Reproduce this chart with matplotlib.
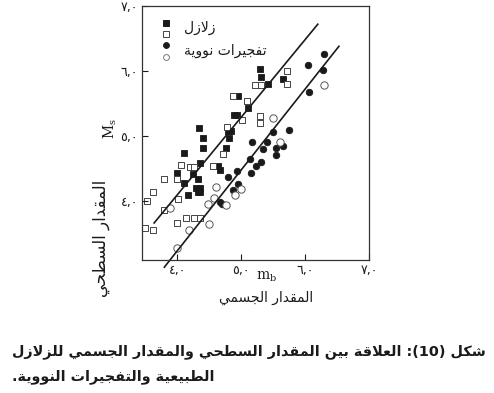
import matplotlib
matplotlib.use("Agg")
import matplotlib.pyplot as plt
from matplotlib.lines import Line2D
from matplotlib.legend_handler import HandlerBase

# --- data (mb, Ms) ---
eq_solid_mb = [5.30, 5.31, 5.42, 5.66, 4.95, 5.11, 4.89, 4.94, 4.80, 4.84, 4.34, 4.41,
               4.81, 4.77, 4.41, 4.11, 4.36, 4.64, 4.67, 4.00, 4.11, 4.25, 4.33, 4.30,
               4.36, 4.33, 4.36, 4.17]
eq_solid_ms = [6.03, 5.91, 5.80, 5.88, 5.62, 5.43, 5.32, 5.32, 5.08, 5.08, 5.12, 4.97,
               4.97, 4.82, 4.82, 4.74, 4.58, 4.54, 4.48, 4.43, 4.28, 4.42, 4.34, 4.20,
               4.20, 4.14, 4.14, 4.09]

eq_open_mb = [5.72, 5.72, 5.22, 5.31, 4.88, 5.09, 5.30, 5.30, 5.02, 4.78, 4.72, 4.06,
              4.20, 4.27, 4.56, 4.00, 3.80, 3.63, 3.53, 4.02, 3.80, 4.14, 4.27, 4.36,
              4.00, 3.50, 3.63]
eq_open_ms = [6.00, 5.80, 5.78, 5.78, 5.62, 5.54, 5.31, 5.20, 5.25, 5.14, 4.72, 4.55,
              4.52, 4.52, 4.54, 4.34, 4.34, 4.14, 4.00, 4.03, 3.86, 3.74, 3.74, 3.74,
              3.66, 3.58, 3.55]

ex_solid_mb = [6.05, 6.30, 6.28, 6.06, 5.75, 5.50, 5.17, 5.41, 5.34, 5.55, 5.66, 5.55,
               5.14, 5.31, 5.23, 5.16, 4.94, 4.80, 4.95, 4.88, 4.67, 4.70]
ex_solid_ms = [6.09, 6.26, 6.02, 5.68, 5.09, 5.06, 4.91, 4.91, 4.80, 4.82, 4.85, 4.71,
               4.65, 4.60, 4.54, 4.43, 4.46, 4.37, 4.26, 4.17, 3.98, 3.95]

ex_open_mb = [6.30, 5.50, 5.61, 4.61, 4.58, 4.48, 4.77, 5.00, 4.91, 4.50, 4.19, 4.00, 3.89]
ex_open_ms = [5.78, 5.28, 4.91, 4.22, 4.05, 3.95, 3.94, 4.18, 4.09, 3.65, 3.55, 3.28, 3.89]

# fitted lines (end points)
eq_fit_mb = [3.64, 6.20]
eq_fit_ms = [3.66, 6.72]
ex_fit_mb = [3.80, 6.53]
ex_fit_ms = [2.98, 6.38]

ticks = [4.0, 5.0, 6.0, 7.0]
tick_labels = ["٤,٠", "٥,٠", "٦,٠", "٧,٠"]

# --- tiny Arabic shaper (matplotlib has no text shaping / bidi) ---
# isolated, final, initial, medial
FORMS = {
    "ا": ("\uFE8D", "\uFE8E", None, None),
    "ب": ("\uFE8F", "\uFE90", "\uFE91", "\uFE92"),
    "ة": ("\uFE93", "\uFE94", None, None),
    "ت": ("\uFE95", "\uFE96", "\uFE97", "\uFE98"),
    "ج": ("\uFE9D", "\uFE9E", "\uFE9F", "\uFEA0"),
    "ح": ("\uFEA1", "\uFEA2", "\uFEA3", "\uFEA4"),
    "د": ("\uFEA9", "\uFEAA", None, None),
    "ر": ("\uFEAD", "\uFEAE", None, None),
    "ز": ("\uFEAF", "\uFEB0", None, None),
    "س": ("\uFEB1", "\uFEB2", "\uFEB3", "\uFEB4"),
    "ش": ("\uFEB5", "\uFEB6", "\uFEB7", "\uFEB8"),
    "ط": ("\uFEC1", "\uFEC2", "\uFEC3", "\uFEC4"),
    "ع": ("\uFEC9", "\uFECA", "\uFECB", "\uFECC"),
    "ف": ("\uFED1", "\uFED2", "\uFED3", "\uFED4"),
    "ق": ("\uFED5", "\uFED6", "\uFED7", "\uFED8"),
    "ك": ("\uFED9", "\uFEDA", "\uFEDB", "\uFEDC"),
    "ل": ("\uFEDD", "\uFEDE", "\uFEDF", "\uFEE0"),
    "م": ("\uFEE1", "\uFEE2", "\uFEE3", "\uFEE4"),
    "ن": ("\uFEE5", "\uFEE6", "\uFEE7", "\uFEE8"),
    "و": ("\uFEED", "\uFEEE", None, None),
    "ي": ("\uFEF1", "\uFEF2", "\uFEF3", "\uFEF4"),
    "LA": ("\uFEFB", "\uFEFC", None, None),
}


def shape_word(w):
    items = []
    i = 0
    while i < len(w):
        if w[i] == "ل" and i + 1 < len(w) and w[i + 1] == "ا":
            items.append("LA")
            i += 2
        else:
            items.append(w[i])
            i += 1
    out = []
    for k, c in enumerate(items):
        prev = items[k - 1] if k > 0 else None
        nxt = items[k + 1] if k + 1 < len(items) else None
        pj = prev in FORMS and FORMS[prev][2] is not None
        nj = FORMS[c][2] is not None and nxt in FORMS
        iso, fin, ini, med = FORMS[c]
        out.append(med if (pj and nj) else fin if pj else ini if nj else iso)
    return "".join(reversed(out))


def ar(text):
    # visual right-to-left order: words reversed, each word shaped
    words = []
    for w in text.split(" "):
        if w == "(10):":
            words.append(":(10)")
            continue
        head = ""
        if w.endswith("."):
            w, head = w[:-1], "."
        words.append(head + shape_word(w))
    return " ".join(reversed(words))


plt.rcParams["font.family"] = ["DejaVu Sans"]
ink = "#1a1a1a"

fig = plt.figure(figsize=(4.94, 3.93), dpi=100, facecolor="white")
ax = fig.add_axes([0.2874, 0.3384, 0.4595, 0.6463])

ms_sq = 18
ms_ci = 22
ax.scatter(eq_solid_mb, eq_solid_ms, marker="s", s=ms_sq, c=ink, edgecolors=ink, linewidths=0.6)
ax.scatter(eq_open_mb, eq_open_ms, marker="s", s=ms_sq, facecolors="white", edgecolors="#444", linewidths=0.7)
ax.scatter(ex_solid_mb, ex_solid_ms, marker="o", s=ms_ci, c=ink, edgecolors=ink, linewidths=0.6)
ax.scatter(ex_open_mb, ex_open_ms, marker="o", s=ms_ci + 6, facecolors="white", edgecolors="#555", linewidths=0.7)

ax.plot(eq_fit_mb, eq_fit_ms, color=ink, lw=1.2, clip_on=False)
ax.plot(ex_fit_mb, ex_fit_ms, color=ink, lw=1.2, clip_on=False)

ax.set_xlim(3.45, 7.0)
ax.set_ylim(3.09, 7.0)
ax.set_xticks(ticks)
ax.set_xticklabels(tick_labels)
ax.set_yticks(ticks)
ax.set_yticklabels(tick_labels)
ax.tick_params(direction="in", length=4, width=0.8, colors=ink, labelsize=9, pad=3)
for sp in ax.spines.values():
    sp.set_linewidth(0.9)
    sp.set_color("#333")


class StackHandler(HandlerBase):
    def create_artists(self, legend, orig, xd, yd, w, h, fontsize, trans):
        top, bottom = orig
        a = Line2D([w / 2], [h * 0.95], marker=top.get_marker(), markersize=4.2,
                   markerfacecolor=top.get_markerfacecolor(), markeredgecolor=top.get_markeredgecolor(),
                   markeredgewidth=0.7, linestyle="none", transform=trans)
        b = Line2D([w / 2], [h * 0.05 - 2], marker=bottom.get_marker(), markersize=4.2,
                   markerfacecolor=bottom.get_markerfacecolor(), markeredgecolor=bottom.get_markeredgecolor(),
                   markeredgewidth=0.7, linestyle="none", transform=trans)
        return [a, b]


h_eq = (Line2D([], [], marker="s", markerfacecolor=ink, markeredgecolor=ink),
        Line2D([], [], marker="s", markerfacecolor="white", markeredgecolor="#444"))
h_ex = (Line2D([], [], marker="o", markerfacecolor=ink, markeredgecolor=ink),
        Line2D([], [], marker="o", markerfacecolor="white", markeredgecolor="#777"))
leg = ax.legend([h_eq, h_ex], [ar("زلازل"), ar("تفجيرات نووية")],
                handler_map={tuple: StackHandler()}, loc="upper left",
                bbox_to_anchor=(0.04, 0.98), frameon=False, fontsize=10,
                handlelength=0.8, handletextpad=0.9, labelspacing=0.6, borderpad=0.2)
for t in leg.get_texts():
    t.set_color(ink)

# axis labels
fig.text(110 / 494, 1 - 129 / 393, "$\\mathregular{M_s}$", rotation=90, ha="center", va="center",
         fontsize=10, color=ink, family="DejaVu Serif")
fig.text(101 / 494, 1 - 238 / 393, ar("المقدار السطحي"), rotation=90, ha="center", va="center",
         fontsize=12, color=ink)
fig.text(267 / 494, 1 - 277 / 393, "$\\mathregular{m_b}$", ha="center", va="center",
         fontsize=10, color=ink, family="DejaVu Serif")
fig.text(266 / 494, 1 - 298 / 393, ar("المقدار الجسمي"), ha="center", va="center",
         fontsize=10, color=ink)

# caption, sized so the first line spans the page width like the scan
cap1 = fig.text(12 / 494, 1 - 352 / 393,
                ar("شكل (10): العلاقة بين المقدار السطحي والمقدار الجسمي للزلازل"),
                ha="left", va="center", fontsize=11.5, fontweight="bold", color=ink)
cap2 = fig.text(12 / 494, 1 - 377 / 393, ar("الطبيعية والتفجيرات النووية."),
                ha="left", va="center", fontsize=11.5, fontweight="bold", color=ink)
renderer = fig.canvas.get_renderer()
w1 = cap1.get_window_extent(renderer).width
fs = 11.5 * 474 / w1
cap1.set_fontsize(fs)
cap2.set_fontsize(fs)

fig.savefig("out.png", dpi=100, facecolor="white")
